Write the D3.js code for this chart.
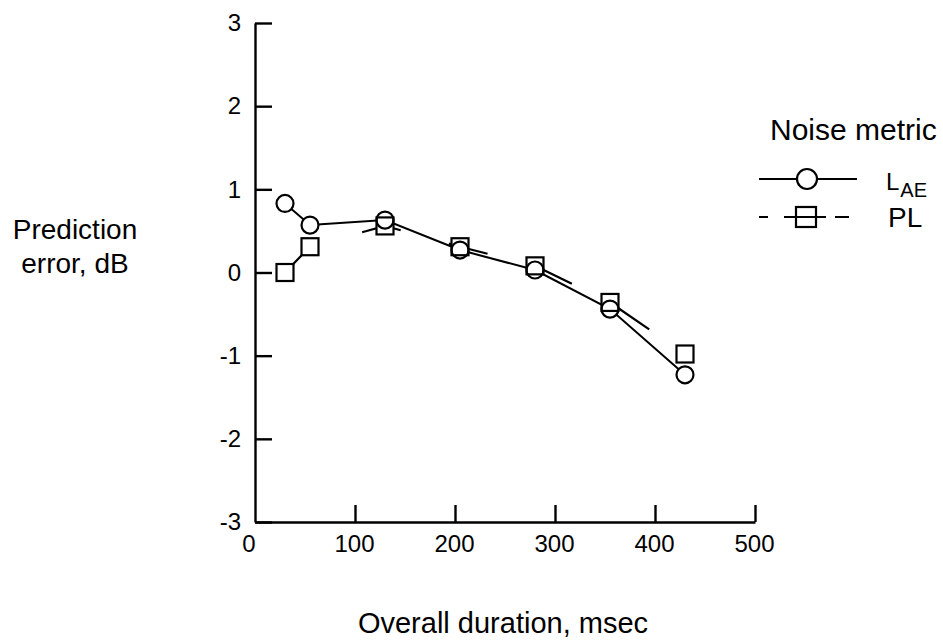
<!DOCTYPE html>
<html>
<head>
<meta charset="utf-8">
<script src="https://cdn.jsdelivr.net/npm/d3@7"></script>
<style>
  html, body { margin: 0; padding: 0; background: #fff; }
  svg { display: block; }
  text { font-family: "Liberation Sans", Arial, Helvetica, sans-serif; fill: #000; }
</style>
</head>
<body>
<svg id="chart" width="943" height="642"></svg>
<script>
// Overall duration (msec) for each test condition
const durations = [30, 55, 130, 205, 280, 355, 430];
// Prediction error (dB) for each noise metric
const laeError = [0.83, 0.57, 0.63, 0.27, 0.03, -0.44, -1.23];
const plError  = [0.00, 0.31, 0.56, 0.31, 0.08, -0.36, -0.98];
// Axis ticks
const xTicks = [0, 100, 200, 300, 400, 500];
const yTicks = [-3, -2, -1, 0, 1, 2, 3];
const seriesNames = ["L", "PL"];

const svg = d3.select("#chart");
const x = d3.scaleLinear().domain([0, 500]).range([255, 755]);
const y = d3.scaleLinear().domain([-3, 3]).range([522, 23]);

const ink = "#000";
const plain = d => String(d); // hyphen-minus, as on the original plot

// Axes: ticks point into the plot area
const yAxis = d3.axisLeft(y).tickValues(yTicks).tickSizeInner(-17).tickSizeOuter(0)
  .tickPadding(14).tickFormat(plain);
const gy = svg.append("g").attr("transform", `translate(${x(0)},0)`).call(yAxis);
const xAxis = d3.axisBottom(x).tickValues(xTicks.filter(d => d !== 0)).tickSizeInner(-17).tickSizeOuter(0)
  .tickPadding(13).tickFormat(plain);
const gx = svg.append("g").attr("transform", `translate(0,${y(-3)})`).call(xAxis);
// zero label under the corner
gx.append("text").attr("x", x(0) - 6).attr("y", 13).attr("dy", "0.71em")
  .attr("text-anchor", "middle").text(plain(xTicks[0]));

[gx, gy].forEach(g => {
  g.select(".domain").attr("stroke", ink).attr("stroke-width", 2.4);
  g.selectAll(".tick line").attr("stroke", ink).attr("stroke-width", 2.4);
  g.selectAll("text").attr("font-size", 24).attr("fill", ink)
    .attr("font-family", '"Liberation Sans", Arial, sans-serif');
});
gx.selectAll(".tick text").attr("dx", -1);

// Series lines
const lae = durations.map((d, i) => [d, laeError[i]]);
const pl = durations.map((d, i) => [d, plError[i]]);
const line = d3.line().x(d => x(d[0])).y(d => y(d[1]));

svg.append("path").datum(pl).attr("d", line)
  .attr("fill", "none").attr("stroke", ink).attr("stroke-width", 2.2)
  .attr("stroke-dasharray", "40,50");
svg.append("path").datum(lae).attr("d", line)
  .attr("fill", "none").attr("stroke", ink).attr("stroke-width", 2);

// Markers: fills first so both outlines stay visible where they overlap
const r = 8.5, s = 17;
const fills = svg.append("g");
const outlines = svg.append("g");
[fills, outlines].forEach((g, k) => {
  const isOutline = k === 1;
  g.selectAll("rect").data(pl).join("rect")
    .attr("x", d => x(d[0]) - s / 2).attr("y", d => y(d[1]) - s / 2)
    .attr("width", s).attr("height", s)
    .attr("fill", isOutline ? "none" : "#fff")
    .attr("stroke", isOutline ? ink : "none").attr("stroke-width", 2.2);
  g.selectAll("circle").data(lae).join("circle")
    .attr("cx", d => x(d[0])).attr("cy", d => y(d[1])).attr("r", r)
    .attr("fill", isOutline ? "none" : "#fff")
    .attr("stroke", isOutline ? ink : "none").attr("stroke-width", 2.2);
});

// Axis titles
const yTitle = svg.append("text").attr("font-size", 28).attr("text-anchor", "middle");
yTitle.append("tspan").attr("x", 75).attr("y", 239).text("Prediction");
yTitle.append("tspan").attr("x", 75).attr("y", 273).text("error, dB");

svg.append("text").attr("x", 503).attr("y", 633).attr("font-size", 29)
  .attr("text-anchor", "middle").text("Overall duration, msec");

// Legend
const lg = svg.append("g");
lg.append("text").attr("x", 770).attr("y", 140).attr("font-size", 30).text("Noise metric");

lg.append("line").attr("x1", 759).attr("x2", 857).attr("y1", 179).attr("y2", 179)
  .attr("stroke", ink).attr("stroke-width", 2);
lg.append("circle").attr("cx", 807).attr("cy", 179).attr("r", 10)
  .attr("fill", "#fff").attr("stroke", ink).attr("stroke-width", 2.2);
const t1 = lg.append("text").attr("x", 886).attr("y", 190).attr("font-size", 24);
t1.append("tspan").text(seriesNames[0]);
t1.append("tspan").attr("font-size", 20).attr("dx", 1).attr("dy", 7).text("AE");

lg.append("line").attr("x1", 759).attr("x2", 849).attr("y1", 217).attr("y2", 217)
  .attr("stroke", ink).attr("stroke-width", 2)
  .attr("stroke-dasharray", "9,16,42,9,14");
lg.append("rect").attr("x", 796).attr("y", 207).attr("width", 20).attr("height", 20)
  .attr("fill", "none").attr("stroke", ink).attr("stroke-width", 2.2);
lg.append("text").attr("x", 888).attr("y", 227).attr("font-size", 28).text(seriesNames[1]);
</script>
</body>
</html>
